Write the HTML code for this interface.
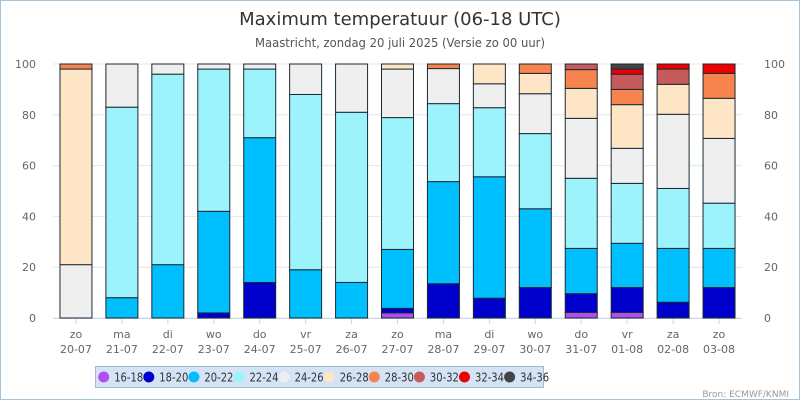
<!DOCTYPE html>
<html><head><meta charset="utf-8"><style>
body{margin:0;background:#fff;font-family:"DejaVu Sans","Liberation Sans",sans-serif}
#wrap{position:relative;width:798px;height:398px;border:1px solid #a9c3d6;overflow:hidden}
</style></head><body>
<div id="wrap">
<svg id="chart" width="798" height="398"></svg>
</div>
<script>
const categories=[["zo","20-07"],["ma","21-07"],["di","22-07"],["wo","23-07"],["do","24-07"],["vr","25-07"],["za","26-07"],["zo","27-07"],["ma","28-07"],["di","29-07"],["wo","30-07"],["do","31-07"],["vr","01-08"],["za","02-08"],["zo","03-08"]];
const seriesNames=["16-18","18-20","20-22","22-24","24-26","26-28","28-30","30-32","32-34","34-36"];
const seriesColors=["#b04ff0","#0000cc","#00bfff","#9cf3fc","#efefef","#fee5c6","#f7834f","#c75b5b","#ee0000","#444444"];
const s16=[0,0,0,0,0,0,0,2,0,0,0,2.2,2.2,0,0];
const s18=[0,0,0,2,14,0,0,1.8,13.5,7.8,12,7.4,9.8,6.2,12];
const s20=[0,8,21,40,57,19,14,23.2,40.2,47.8,31,17.8,17.4,21.2,15.4];
const s22=[0,75,75,56,27,69,67,51.9,30.7,27.2,29.6,27.6,23.6,23.6,17.8];
const s24=[21,17,4,2,2,12,19,19.1,13.8,9.4,15.7,23.6,13.8,29.2,25.5];
const s26=[77,0,0,0,0,0,0,2,0,7.8,8,11.8,17.2,11.8,15.8];
const s28=[2,0,0,0,0,0,0,0,1.8,0,3.7,7.4,6,0,9.8];
const s30=[0,0,0,0,0,0,0,0,0,0,0,2.2,6,6,0];
const s32=[0,0,0,0,0,0,0,0,0,0,0,0,2,2,3.7];
const s34=[0,0,0,0,0,0,0,0,0,0,0,0,2,0,0];
const yTicks=[0,20,40,60,80,100];
const series=[s16,s18,s20,s22,s24,s26,s28,s30,s32,s34];

const NS="http://www.w3.org/2000/svg";
const svg=document.getElementById('chart');
const L=52,R=741,T=63,B=317;
const step=(R-L)/categories.length, bw=32;
const x=i=>L+step*(i+0.5);
const y=v=>B-(v/100)*(B-T);
function mk(tag,attrs,txt){const e=document.createElementNS(NS,tag);for(const k in attrs)e.setAttribute(k,attrs[k]);if(txt!==undefined)e.textContent=txt;svg.appendChild(e);return e;}

let t=mk('text',{x:399,y:24,'text-anchor':'middle','font-size':18,fill:'#333'},'Maximum temperatuur (06-18 UTC)');


t=mk('text',{x:399,y:46,'text-anchor':'middle','font-size':12,fill:'#555',textLength:290,lengthAdjust:'spacingAndGlyphs'},'Maastricht, zondag 20 juli 2025 (Versie zo 00 uur)');



yTicks.forEach(v=>{
 const g=mk('line',{x1:L,x2:R,y1:y(v),y2:y(v),stroke:'#e6e6e6','stroke-width':1});
 
 
 const a=mk('text',{x:35,y:y(v)+4,'text-anchor':'end','font-size':11,fill:'#666'},v);
 
 
 const b=mk('text',{x:763,y:y(v)+4,'text-anchor':'start','font-size':11,fill:'#666'},v);
 
 
});
const ax=mk('line',{x1:L,x2:R,y1:B+0.5,y2:B+0.5,stroke:'#ccd6eb'});



categories.forEach((c,i)=>{
 const tk=mk('line',{x1:x(i),x2:x(i),y1:B,y2:B+6,stroke:'#ccd6eb'});
 
 
 const l1=mk('text',{x:x(i),y:337,'text-anchor':'middle','font-size':11,fill:'#666'},c[0]);
 
 
 const l2=mk('text',{x:x(i),y:352,'text-anchor':'middle','font-size':11,fill:'#666'},c[1]);
 
 
 let cum=0;
 series.forEach((s,k)=>{
  const v=s[i]; if(!v) return;
  const r=mk('rect',{x:x(i)-bw/2,y:y(cum+v),width:bw,height:y(cum)-y(cum+v),fill:seriesColors[k],stroke:'#1a2a33','stroke-width':1});
  
  
  cum+=v;
 });
});

const lg=mk('rect',{x:94.5,y:365.5,width:448,height:21,fill:'#d5e3f6',stroke:'#a8b8cc'});


seriesNames.forEach((n,k)=>{
 const cx=102.7+k*45.1;
 const c=mk('circle',{cx:cx,cy:376,r:5.5,fill:seriesColors[k]});
 
 
 const tt=mk('text',{x:cx+10.5,y:380.5,'font-size':12,fill:'#333',textLength:29,lengthAdjust:'spacingAndGlyphs'},n);
 
 
});
t=mk('text',{x:788,y:396,'text-anchor':'end','font-size':9,fill:'#999'},'Bron: ECMWF/KNMI');


</script>
</body></html>
